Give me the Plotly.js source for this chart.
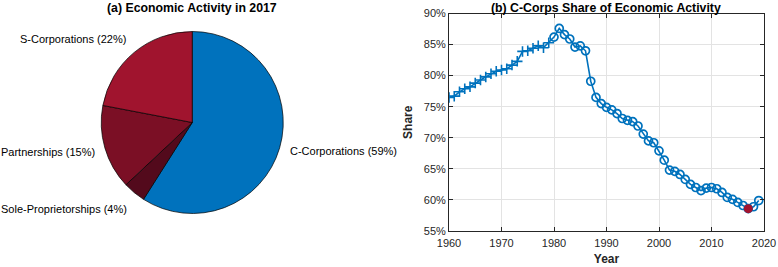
<!DOCTYPE html>
<html>
<head>
<meta charset="utf-8">
<script src="https://cdn.plot.ly/plotly-3.0.1.min.js"></script>
<style>html,body{margin:0;padding:0;background:#fff;}#chart{width:778px;height:267px;}</style>
</head>
<body>
<div id="chart"></div>
<script>
// Pie data (2017)
var pieLabels = ["C-Corporations", "Sole-Proprietorships", "Partnerships", "S-Corporations"];
var pieValues = [59, 4, 15, 22];
var pieColors = ["#0072BD", "#530A1C", "#7B0F25", "#A0142E"];

// C-Corps share series
var years = [1960,1961,1962,1963,1964,1965,1966,1967,1968,1969,
             1970,1971,1972,1973,1974,1975,1976,1977,1978,1979,
             1980,1981,1982,1983,1984,1985,1986,1987,1988,1989,
             1990,1991,1992,1993,1994,1995,1996,1997,1998,1999,
             2000,2001,2002,2003,2004,2005,2006,2007,2008,2009,
             2010,2011,2012,2013,2014,2015,2016,2017,2018,2019];
var share = [76.5,76.7,77.4,77.9,78.2,78.8,79.3,79.8,80.3,80.7,
             80.9,81.1,81.7,82.3,83.9,84.0,84.4,84.8,84.5,85.3,
             86.2,87.6,86.6,85.9,84.6,84.8,84.0,79.1,76.5,75.5,
             74.9,74.5,73.9,73.1,72.8,72.6,71.9,70.6,69.5,69.2,
             67.9,66.4,64.8,64.6,64.1,63.3,62.5,62.0,61.5,61.9,
             62.0,61.8,61.2,60.4,60.1,59.6,59.1,58.6,58.9,59.9];
var plusEndYear = 1979;
var highlightYear = 2017;
var xTicks = [1960,1970,1980,1990,2000,2010,2020];
var yTicks = [55,60,65,70,75,80,85,90];
var yTickText = yTicks.map(function(v){return v + "%";});

var blue = "#0072BD";
var red = "#A2142F";
var font = "Liberation Sans, Arial, Helvetica, sans-serif";

var plusX = [], plusY = [], circX = [], circY = [], hiX = [], hiY = [];
for (var i = 0; i < years.length; i++) {
  if (years[i] <= plusEndYear) { plusX.push(years[i]); plusY.push(share[i]); }
  else { circX.push(years[i]); circY.push(share[i]); }
  if (years[i] === highlightYear) { hiX.push(years[i]); hiY.push(share[i]); }
}

var traces = [
  {
    type: "pie", labels: pieLabels, values: pieValues, sort: false,
    direction: "clockwise", rotation: 0,
    marker: {colors: pieColors, line: {color: "#000", width: 0.7}},
    textinfo: "none", hoverinfo: "none", showlegend: false,
    domain: {x: [101/778, 283.5/778], y: [1 - 213.5/267, 1 - 31.5/267]}
  },
  {
    type: "scatter", mode: "lines", x: years, y: share,
    line: {color: blue, width: 1.6}, xaxis: "x", yaxis: "y", showlegend: false, hoverinfo: "none"
  },
  {
    type: "scatter", mode: "markers", x: plusX, y: plusY,
    marker: {symbol: "cross-thin", size: 7.5, color: blue, line: {color: blue, width: 1.6}},
    xaxis: "x", yaxis: "y", showlegend: false, hoverinfo: "none"
  },
  {
    type: "scatter", mode: "markers", x: circX, y: circY,
    marker: {symbol: "circle-open", size: 8, color: blue, line: {color: blue, width: 1.7}},
    xaxis: "x", yaxis: "y", showlegend: false, hoverinfo: "none"
  },
  {
    type: "scatter", mode: "markers", x: hiX, y: hiY,
    marker: {symbol: "circle", size: 9, color: red, line: {width: 0}},
    xaxis: "x", yaxis: "y", showlegend: false, hoverinfo: "none"
  }
];

function lab(i){ return pieLabels[i] + " (" + pieValues[i] + "%)"; }
var annFont = {family: font, size: 11, color: "#000"};
var titleFont = {family: font, size: 12.3, color: "#000"};
var annotations = [
  {text: lab(0), x: 289/778, y: 1 - 151/267, xanchor: "left", yanchor: "middle"},
  {text: lab(1), x: 0, y: 1 - 209/267, xanchor: "left", yanchor: "middle"},
  {text: lab(2), x: 0, y: 1 - 152/267, xanchor: "left", yanchor: "middle"},
  {text: lab(3), x: 127/778, y: 1 - 39/267, xanchor: "right", yanchor: "middle"},
  {text: "<b>(a) Economic Activity in 2017</b>", x: 192/778, y: 1, xanchor: "center", yanchor: "top", font: titleFont},
  {text: "<b>(b) C-Corps Share of Economic Activity</b>", x: 605.5/778, y: 1, xanchor: "center", yanchor: "top", font: titleFont}
].map(function(a){ a.xref = "paper"; a.yref = "paper"; a.showarrow = false; if(!a.font) a.font = annFont; a.borderpad = 0; return a; });

var axCommon = {
  showline: true, linecolor: "#262626", linewidth: 1, mirror: "ticks",
  ticks: "inside", ticklen: 4, tickcolor: "#262626", tickwidth: 1,
  showgrid: true, gridcolor: "#e3e3e3", gridwidth: 1, zeroline: false,
  tickfont: {family: font, size: 11, color: "#262626"}
};

var layout = {
  width: 778, height: 267,
  margin: {l: 0, r: 0, t: 0, b: 0},
  paper_bgcolor: "#fff", plot_bgcolor: "#fff",
  showlegend: false,
  xaxis: Object.assign({}, axCommon, {
    domain: [449/778, 764/778], range: [1960, 2020], tickvals: xTicks,
    anchor: "y", ticklabelstandoff: 2,
    title: {text: "<b>Year</b>", font: {family: font, size: 12, color: "#262626"}, standoff: 6}
  }),
  yaxis: Object.assign({}, axCommon, {
    domain: [1 - 231/267, 1 - 13.5/267], range: [55, 90], tickvals: yTicks, ticktext: yTickText,
    anchor: "x",
    title: {text: "<b>Share</b>", font: {family: font, size: 12, color: "#262626"}, standoff: 8}
  }),
  annotations: annotations
};

Plotly.newPlot("chart", traces, layout, {staticPlot: true, displayModeBar: false});
</script>
</body>
</html>
